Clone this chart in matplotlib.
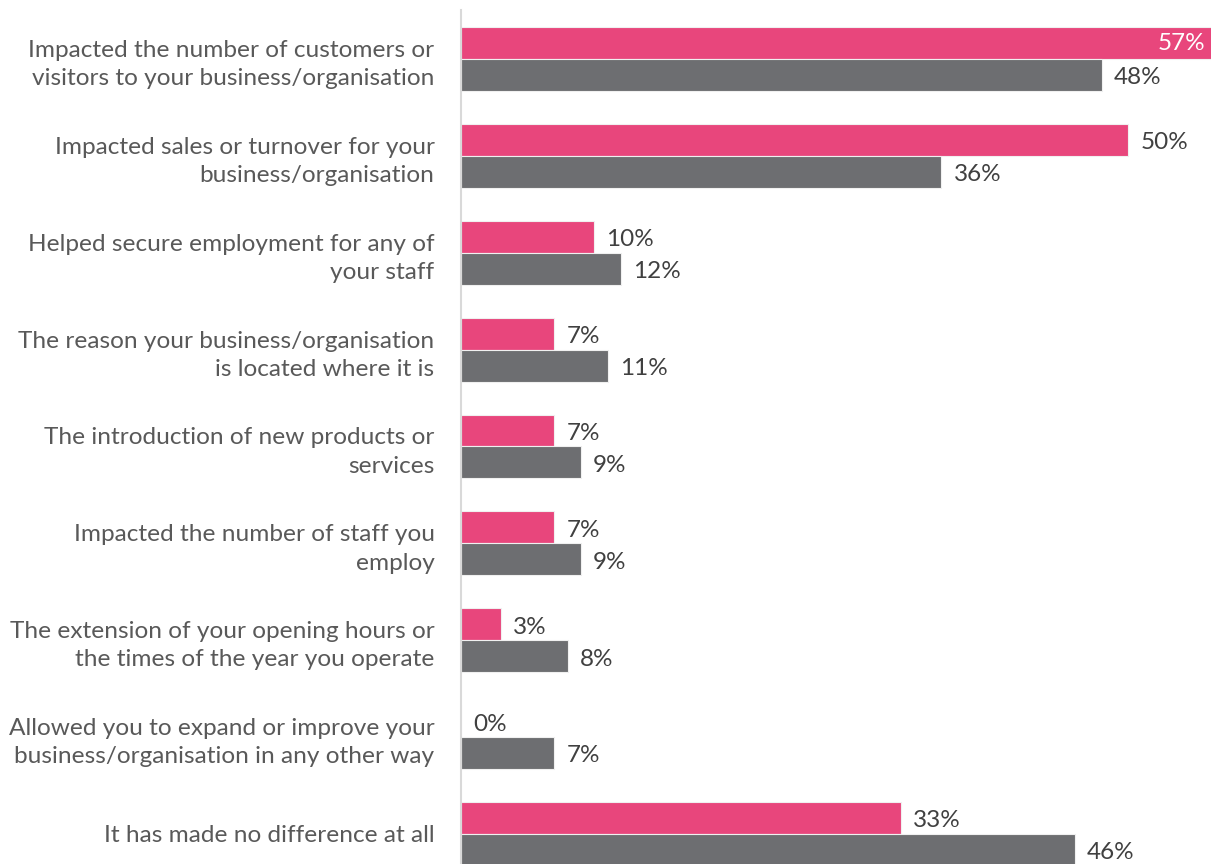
import matplotlib.pyplot as plt
import numpy as np

plt.rcParams['font.family'] = ['Lato', 'DejaVu Sans']

categories = [
    "Impacted the number of customers or\nvisitors to your business/organisation",
    "Impacted sales or turnover for your\nbusiness/organisation",
    "Helped secure employment for any of\nyour staff",
    "The reason your business/organisation\nis located where it is",
    "The introduction of new products or\nservices",
    "Impacted the number of staff you\nemploy",
    "The extension of your opening hours or\nthe times of the year you operate",
    "Allowed you to expand or improve your\nbusiness/organisation in any other way",
    "It has made no difference at all",
]
pink_vals = [57, 50, 10, 7, 7, 7, 3, 0, 33]
grey_vals = [48, 36, 12, 11, 9, 9, 8, 7, 46]

PINK = '#E8467C'
GREY = '#6D6E71'
TEXT = '#595959'

fig = plt.figure(figsize=(12.11, 8.64), dpi=100)
ax = fig.add_axes([461 / 1211, 0.0, 1 - 461 / 1211, 1 - 10 / 864])

y = np.arange(len(categories))
h = 0.33
ax.barh(y - h / 2, pink_vals, height=h, color=PINK, edgecolor='#f0f0f0', linewidth=0.8)
ax.barh(y + h / 2, grey_vals, height=h, color=GREY, edgecolor='#f0f0f0', linewidth=0.8)

xmax = 56.2
ax.set_xlim(0, xmax)
ax.set_ylim(8.31, -0.506)

for i, (p, g) in enumerate(zip(pink_vals, grey_vals)):
    if p > xmax:
        ax.text(xmax - 0.4, i - h / 2, f"{p}%", ha='right', va='center',
                color='white', fontsize=17.5)
    else:
        ax.text(p + 0.9, i - h / 2 + 0.03, f"{p}%", ha='left', va='center',
                color='#404040', fontsize=17.5)
    ax.text(g + 0.9, i + h / 2 + 0.03, f"{g}%", ha='left', va='center',
            color='#404040', fontsize=17.5)

ax.set_yticks(y)
ax.set_yticklabels(categories, fontsize=17.6, color=TEXT, linespacing=1.42)
ax.tick_params(axis='y', length=0, pad=19)
ax.set_xticks([])
for s in ['top', 'right', 'bottom']:
    ax.spines[s].set_visible(False)
ax.spines['left'].set_color('#d9d9d9')
ax.spines['left'].set_linewidth(1.5)

fig.savefig('out.png', dpi=100)
